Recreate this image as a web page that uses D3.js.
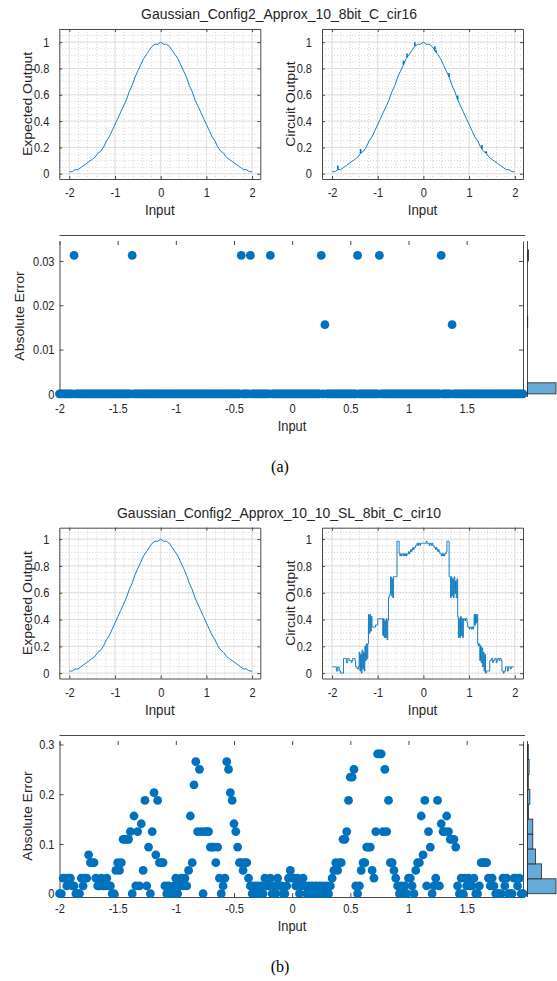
<!DOCTYPE html>
<html>
<head>
<meta charset="utf-8">
<script src="https://cdn.jsdelivr.net/npm/d3@7"></script>
<style>
  body { margin: 0; background: #fff; }
  svg { display: block; }
</style>
</head>
<body>
<svg id="fig" width="557" height="981"></svg>
<script>
'use strict';

// ---- data ----
var titles = ['Gaussian_Config2_Approx_10_8bit_C_cir16',
              'Gaussian_Config2_Approx_10_10_SL_8bit_C_cir10'];
var captions = ['(a)', '(b)'];

var topXTicks = [-2, -1, 0, 1, 2];
var topYTicks = [0, 0.2, 0.4, 0.6, 0.8, 1];
var errXTicks = [-2, -1.5, -1, -0.5, 0, 0.5, 1, 1.5];
var errYTicksA = [0, 0.01, 0.02, 0.03];
var errYTicksB = [0, 0.1, 0.2, 0.3];

// outputs and errors are in LSB of 1/64
var LSB = 1 / 64;
// 8 bit input grid, -2 .. 1.984
var inputs = d3.range(256).map(function(i) { return -2 + i / 64; });

// expected output read every 1/16 of input
var expectedX = d3.range(65).map(function(j) { return -2 + j / 16; });
var expectedCodes = [
  1, 1, 2, 2, 3, 4, 5, 6, 7, 8, 10, 11, 13, 16, 18, 21,
  24, 27, 30, 33, 36, 40, 43, 47, 50, 53, 56, 58, 60, 62, 63, 63,
  64,
  63, 63, 62, 60, 58, 56, 53, 50, 47, 43, 40, 36, 33, 30, 27, 24,
  21, 18, 16, 13, 11, 10, 8, 7, 6, 5, 4, 3, 2, 2, 1, 1
];

// (a) absolute error per input sample
var errorCodesA = [
  0,0,0,0,0,0,0,0,2,0,0,0,0,0,0,0,
  0,0,0,0,0,0,0,0,0,0,0,0,0,0,0,0,
  0,0,0,0,0,0,0,0,2,0,0,0,0,0,0,0,
  0,0,0,0,0,0,0,0,0,0,0,0,0,0,0,0,
  0,0,0,0,0,0,0,0,0,0,0,0,0,0,0,0,
  0,0,0,0,0,0,0,0,0,0,0,0,0,0,0,0,
  0,0,0,0,2,0,0,0,0,2,0,0,0,0,0,0,
  0,0,0,0,2,0,0,0,0,0,0,0,0,0,0,0,
  0,0,0,0,0,0,0,0,0,0,0,0,0,0,0,0,
  2,0,1,0,0,0,0,0,0,0,0,0,0,0,0,0,
  0,0,0,0,2,0,0,0,0,0,0,0,0,0,0,0,
  2,0,0,0,0,0,0,0,0,0,0,0,0,0,0,0,
  0,0,0,0,0,0,0,0,0,0,0,0,0,0,0,0,
  0,0,2,0,0,0,0,0,1,0,0,0,0,0,0,0,
  0,0,0,0,0,0,0,0,0,0,0,0,0,0,0,0,
  0,0,0,0,0,0,0,0,0,0,0,0,0,0,0,0
];

// (b) circuit output per input sample
var circuitCodesB = [
  3,3,3,3,3,3,1,1,3,3,1,1,0,0,0,0,
  7,7,7,7,5,5,7,7,6,6,6,5,6,7,7,7,
  6,3,3,2,2,3,10,1,9,0,11,2,10,1,13,6,
  14,7,14,28,19,28,20,27,22,22,22,22,22,23,23,23,
  26,26,26,26,26,26,26,18,26,17,25,17,26,16,25,36,
  37,38,46,37,45,36,46,46,46,46,46,63,63,63,57,56,
  57,56,57,57,56,57,56,57,56,57,57,58,57,58,59,58,
  59,60,59,60,60,61,61,62,61,62,62,61,62,62,62,62,
  62,62,62,62,63,62,62,62,61,62,62,61,62,61,61,60,
  60,59,60,59,58,59,58,57,57,56,57,56,57,56,57,57,
  58,63,63,63,46,46,36,46,37,45,36,46,38,44,36,45,
  27,17,26,17,27,18,26,17,26,26,25,26,26,24,22,22,
  21,22,22,21,22,21,22,28,23,28,24,28,14,13,14,6,
  13,5,12,3,10,1,9,0,1,1,1,1,1,6,6,7,
  7,5,6,6,7,7,5,6,7,7,6,7,7,6,1,1,
  0,1,1,3,3,3,1,3,3,3,2,3,3,3,3,3
];

// (b) absolute error per input sample
var errorCodesB = [
  0,0,2,2,1,2,2,1,1,0,0,0,2,1,2,2,
  5,4,4,4,2,1,1,2,1,1,2,1,1,0,0,3,
  4,3,4,7,7,7,7,8,0,10,1,8,1,9,3,12,
  1,6,0,8,13,5,12,4,4,4,1,0,1,0,0,1,
  2,0,1,2,1,2,1,3,10,4,14,17,8,16,8,0,
  8,8,8,6,6,6,4,6,2,0,1,2,17,16,13,12,
  9,8,6,4,4,3,4,4,2,1,0,1,0,1,0,1,
  0,2,1,1,2,0,1,0,2,1,1,0,0,1,2,3,
  2,2,1,2,0,1,2,1,0,1,0,1,0,1,0,1,
  0,1,0,1,0,1,2,3,4,3,4,4,7,7,8,12,
  15,15,16,1,0,1,3,4,4,6,6,6,3,2,8,18,
  18,18,8,16,8,12,4,4,3,2,1,0,1,0,1,0,
  2,2,1,0,3,4,4,10,5,12,1,8,6,0,1,2,
  12,1,9,8,8,10,8,7,7,7,6,1,0,2,0,2,
  1,2,1,1,2,0,0,1,4,4,4,4,2,1,2,1,
  0,0,0,0,2,1,2,0,0,0,2,2,1,2,0,0
];

// ---- style / layout ----
var FONT = '"Liberation Sans", Arial, Helvetica, sans-serif';
var BLUE = '#0072BD';
var BAR = '#66aad7';
var AX = '#4a4a4a';
var TXT = '#262626';
// the source figure is squeezed horizontally, so is its text
var TICK_SX = 0.85;
var LABEL_SX = 0.92;
var TITLE_SX = 0.9;

var fig = d3.select('#fig');

var panels = [
  { title: titles[0], caption: captions[0], titleY: 19, captionY: 472,
    top: { y: 29, h: 150, yDomain: [-0.04, 1.1] },
    err: { y: 241, h: 156, yDomain: [-0.0007, 0.0345], ticks: errYTicksA,
           bins: d3.range(0, 0.0351, 0.0025), labelX: 19.5 },
    errors: errorCodesA },
  { title: titles[1], caption: captions[1], titleY: 518, captionY: 972,
    top: { y: 527.7, h: 150.8, yDomain: [-0.04, 1.085] },
    err: { y: 741, h: 156, yDomain: [-0.0066, 0.307], ticks: errYTicksB,
           bins: d3.range(0, 0.301, 0.03), labelX: 27 },
    errors: errorCodesB, circuit: circuitCodesB }
];

function fmt(d) { return String(d); }
function blank() { return ''; }

function styleAxis(sel, gen) {
  sel.call(gen);
  sel.attr('font-family', FONT).attr('font-size', 13);
  sel.select('.domain').attr('stroke', AX);
  sel.selectAll('.tick line').attr('stroke', AX);
  sel.selectAll('.tick text').attr('fill', TXT).each(function() {
    var t = d3.select(this);
    var x = +t.attr('x') || 0;
    t.attr('transform', 'translate(' + x + ',0) scale(' + TICK_SX + ',1) translate(' + (-x) + ',0)');
  });
}

function label(text, x, y, rotate, size, sx) {
  fig.append('text')
    .attr('transform', 'translate(' + x + ',' + y + ') scale(' + (sx || LABEL_SX) + ',1)' +
      (rotate ? ' rotate(-90)' : ''))
    .attr('dy', rotate ? '0.35em' : null)
    .attr('text-anchor', 'middle')
    .attr('font-family', FONT)
    .attr('font-size', size || 14)
    .attr('fill', TXT)
    .text(text);
}

// small plot with grid, returns scales
function drawTop(bx, by, h, yDomain, ylabel) {
  var w = 201;
  var x = d3.scaleLinear().domain([-2.22, 2.18]).range([bx, bx + w]);
  var y = d3.scaleLinear().domain(yDomain).range([by + h, by]);
  var g = fig.append('g');

  // minor grid (dotted)
  g.selectAll('.mx').data(x.ticks(20)).join('line')
    .attr('x1', x).attr('x2', x).attr('y1', by).attr('y2', by + h)
    .attr('stroke', '#d4d4d4').attr('stroke-dasharray', '1,2');
  g.selectAll('.my').data(y.ticks(20)).join('line')
    .attr('x1', bx).attr('x2', bx + w).attr('y1', y).attr('y2', y)
    .attr('stroke', '#d4d4d4').attr('stroke-dasharray', '1,2');
  // major grid
  g.selectAll('.gx').data(topXTicks).join('line')
    .attr('x1', x).attr('x2', x).attr('y1', by).attr('y2', by + h)
    .attr('stroke', '#e0e0e0');
  g.selectAll('.gy').data(topYTicks).join('line')
    .attr('x1', bx).attr('x2', bx + w).attr('y1', y).attr('y2', y)
    .attr('stroke', '#e0e0e0');

  styleAxis(fig.append('g').attr('transform', 'translate(0,' + (by + h) + ')'),
    d3.axisBottom(x).tickValues(topXTicks).tickSize(-3).tickSizeOuter(0).tickPadding(9).tickFormat(fmt));
  styleAxis(fig.append('g').attr('transform', 'translate(0,' + by + ')'),
    d3.axisTop(x).tickValues(topXTicks).tickSize(-3).tickSizeOuter(0).tickFormat(blank));
  styleAxis(fig.append('g').attr('transform', 'translate(' + bx + ',0)'),
    d3.axisLeft(y).tickValues(topYTicks).tickSize(-3).tickSizeOuter(0).tickPadding(10).tickFormat(fmt));
  styleAxis(fig.append('g').attr('transform', 'translate(' + (bx + w) + ',0)'),
    d3.axisRight(y).tickValues(topYTicks).tickSize(-3).tickSizeOuter(0).tickFormat(blank));

  label(ylabel, bx - 32, by + h / 2, true, 14);
  label('Input', bx + w / 2, by + h + 36, false, 14.5);
  return { x: x, y: y, g: g };
}

function drawErr(p) {
  var box = { x: 59.5, y: p.err.y, w: 463.5, h: p.err.h };
  var x = d3.scaleLinear().domain([inputs[0], inputs[inputs.length - 1]]).range([box.x, box.x + box.w]);
  var y = d3.scaleLinear().domain(p.err.yDomain).range([box.y + box.h, box.y]);
  var errs = p.errors.map(function(c) { return c * LSB; });

  fig.append('line')
    .attr('x1', box.x).attr('x2', box.x + box.w + 2)
    .attr('y1', box.y - 5.5).attr('y2', box.y - 5.5)
    .attr('stroke', AX);

  styleAxis(fig.append('g').attr('transform', 'translate(0,' + (box.y + box.h) + ')'),
    d3.axisBottom(x).tickValues(errXTicks).tickSize(-4).tickSizeOuter(0).tickPadding(7).tickFormat(fmt));
  var top = fig.append('g').attr('transform', 'translate(0,' + box.y + ')');
  styleAxis(top, d3.axisTop(x).tickValues(errXTicks).tickSize(-4).tickSizeOuter(0).tickFormat(blank));
  top.select('.domain').remove();
  styleAxis(fig.append('g').attr('transform', 'translate(' + box.x + ',0)'),
    d3.axisLeft(y).tickValues(p.err.ticks).tickSize(-4).tickSizeOuter(0).tickPadding(5).tickFormat(fmt));
  styleAxis(fig.append('g').attr('transform', 'translate(' + (box.x + box.w) + ',0)'),
    d3.axisRight(y).tickValues(p.err.ticks).tickSize(-4).tickSizeOuter(0).tickFormat(blank));

  fig.append('g').selectAll('circle')
    .data(errs.map(function(e, i) { return { x: inputs[i], e: e }; }))
    .join('circle')
    .attr('cx', function(d) { return x(d.x); })
    .attr('cy', function(d) { return y(d.e); })
    .attr('r', 4.4)
    .attr('fill', BLUE);

  // marginal histogram of the error
  var hx = 527.5;
  var bins = d3.bin()
    .domain([0, p.err.bins[p.err.bins.length - 1]])
    .thresholds(p.err.bins)(errs);
  var bw = d3.scaleLinear().domain([0, d3.max(bins, function(b) { return b.length; })]).range([0, 28.5]);
  fig.append('line')
    .attr('x1', hx).attr('x2', hx).attr('y1', box.y).attr('y2', box.y + box.h)
    .attr('stroke', AX);
  fig.append('g').selectAll('rect')
    .data(bins.filter(function(b) { return b.length > 0; }))
    .join('rect')
    .attr('x', hx)
    .attr('y', function(b) { return y(b.x1); })
    .attr('width', function(b) { return bw(b.length); })
    .attr('height', function(b) { return y(b.x0) - y(b.x1); })
    .attr('fill', BAR)
    .attr('stroke', '#262626')
    .attr('stroke-width', 0.8);

  label('Absolute Error', p.err.labelX, box.y + box.h / 2 - 3, true, 14);
  label('Input', 292, box.y + box.h + 34, false, 14);
}

panels.forEach(function(p) {
  label(p.title, 279, p.titleY, false, 15.5, TITLE_SX);

  var expLine = function(s) {
    return d3.line()
      .x(function(d, j) { return s.x(expectedX[j]); })
      .y(function(d) { return s.y(d * LSB); });
  };

  // expected output
  var tl = drawTop(59.3, p.top.y, p.top.h, p.top.yDomain, 'Expected Output');
  tl.g.append('path').datum(expectedCodes)
    .attr('d', expLine(tl))
    .attr('fill', 'none').attr('stroke', BLUE).attr('stroke-width', 0.9);

  // circuit output
  var tr = drawTop(322, p.top.y, p.top.h, p.top.yDomain, 'Circuit Output');
  if (p.circuit) {
    tr.g.append('path').datum(p.circuit)
      .attr('d', d3.line()
        .x(function(d, i) { return tr.x(inputs[i]); })
        .y(function(d) { return tr.y(d * LSB); })
        .curve(d3.curveStepAfter))
      .attr('fill', 'none').attr('stroke', BLUE).attr('stroke-width', 0.9);
  } else {
    // circuit follows expected except where it is off by the error
    var expectedAt = d3.scaleLinear().domain(expectedX).range(expectedCodes.map(function(c) { return c * LSB; }));
    tr.g.append('path').datum(expectedCodes)
      .attr('d', expLine(tr))
      .attr('fill', 'none').attr('stroke', BLUE).attr('stroke-width', 0.9);
    tr.g.selectAll('.blip')
      .data(p.errors.map(function(c, i) { return { x: inputs[i], e: c * LSB }; })
        .filter(function(d) { return d.e > 0; }))
      .join('line')
      .attr('x1', function(d) { return tr.x(d.x); })
      .attr('x2', function(d) { return tr.x(d.x); })
      .attr('y1', function(d) { return tr.y(expectedAt(d.x)); })
      .attr('y2', function(d) { return tr.y(expectedAt(d.x) + d.e); })
      .attr('stroke', BLUE).attr('stroke-width', 1.6);
  }

  drawErr(p);

  fig.append('text')
    .attr('x', 280).attr('y', p.captionY)
    .attr('text-anchor', 'middle')
    .attr('font-family', '"Liberation Serif", "Times New Roman", serif')
    .attr('font-size', 16)
    .attr('fill', '#000')
    .text(p.caption);
});
</script>
</body>
</html>
